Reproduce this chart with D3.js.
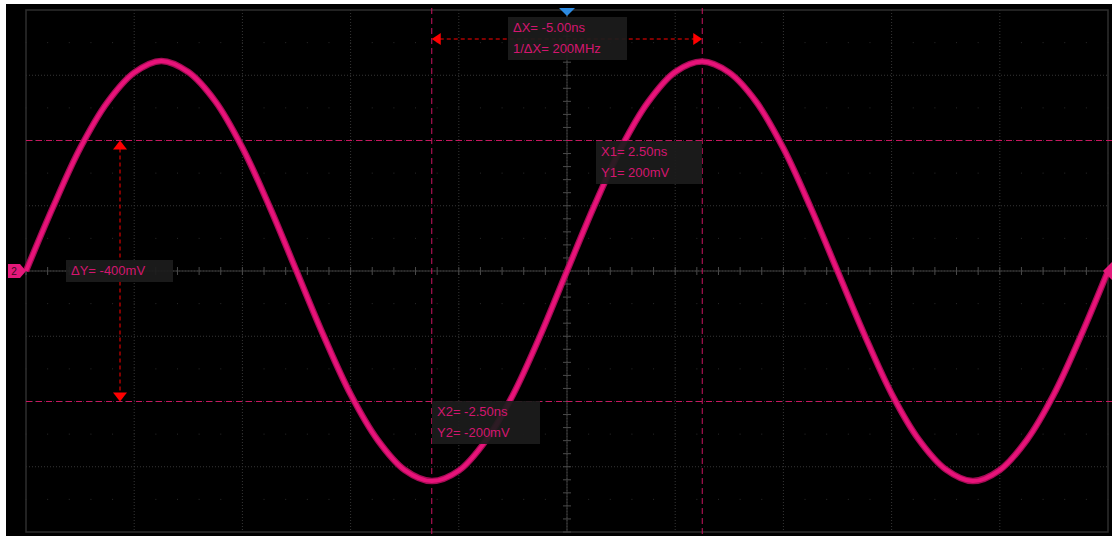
<!DOCTYPE html>
<html>
<head>
<meta charset="utf-8">
<script src="https://cdn.jsdelivr.net/npm/d3@7"></script>
<style>
  html, body { margin: 0; padding: 0; background: #ffffff; }
  svg { display: block; }
</style>
</head>
<body>
<div id="scope"></div>
<script>
// time axis in ns, voltage in mV
const time_range = [-10, 10];
const volt_range = [-400, 400];
const h_divs = 10;
const v_divs = 8;

// waveform samples, one every 0.5 ns
const wave_t0 = -10;
const wave_dt = 0.5;
const wave_mv = [
  0, 98, 188, 258, 304, 322, 305, 260, 189, 99,
  0, -99, -189, -259, -305, -322, -306, -260, -190, -100,
  0, 99, 189, 259, 305, 321, 304, 259, 188, 98,
  0, -98, -188, -258, -304, -322, -305, -259, -189, -99,
  0
];

// cursors
const cursor_x = [2.5, -2.5];     // X1, X2 (ns)
const cursor_y = [200, -200];     // Y1, Y2 (mV)
const delta_labels = ["\u0394X= -5.00ns", "1/\u0394X= 200MHz"];
const x1_labels = ["X1= 2.50ns", "Y1= 200mV"];
const x2_labels = ["X2= -2.50ns", "Y2= -200mV"];
const dy_label = "\u0394Y= -400mV";
const channel = "2";

const width = 1112;
const height = 536;
const wave_color = "#e8137a";
const cursor_color = "#c8155f";
const arrow_color = "#ff0000";
const text_color = "#d3166f";
const box_fill = "#1c1c1c";

const x = d3.scaleLinear().domain(time_range).range([26, 1108]);
const y = d3.scaleLinear().domain(volt_range).range([532, 10]);

const svg = d3.select("#scope").append("svg")
    .attr("width", width)
    .attr("height", height);

svg.append("rect")
    .attr("x", 6).attr("y", 4)
    .attr("width", width - 6).attr("height", height - 4)
    .attr("fill", "#000000");

// ---- grid
const grid = svg.append("g");
const x_ticks = d3.range(h_divs + 1).map(function(i) {
  return time_range[0] + i * (time_range[1] - time_range[0]) / h_divs;
});
const y_ticks = d3.range(v_divs + 1).map(function(i) {
  return volt_range[0] + i * (volt_range[1] - volt_range[0]) / v_divs;
});

grid.selectAll(".vgrid")
    .data(x_ticks.slice(1, -1))
  .enter().append("line")
    .attr("x1", function(d) { return x(d); })
    .attr("x2", function(d) { return x(d); })
    .attr("y1", y(volt_range[1]))
    .attr("y2", y(volt_range[0]))
    .attr("stroke", "#363636")
    .attr("stroke-width", 1)
    .attr("stroke-dasharray", "1,2");

grid.selectAll(".hgrid")
    .data(y_ticks.slice(1, -1))
  .enter().append("line")
    .attr("x1", x(time_range[0]))
    .attr("x2", x(time_range[1]))
    .attr("y1", function(d) { return y(d); })
    .attr("y2", function(d) { return y(d); })
    .attr("stroke", "#363636")
    .attr("stroke-width", 1)
    .attr("stroke-dasharray", "1,2");

// faint sub-division dots on half-division rows
const half_rows = d3.range(v_divs).map(function(i) { return volt_range[0] + (i + 0.5) * 100; });
const fifth_cols = d3.range(h_divs * 5 + 1).map(function(i) { return time_range[0] + i * 0.4; });
half_rows.forEach(function(v) {
  grid.selectAll(null)
      .data(fifth_cols)
    .enter().append("rect")
      .attr("x", function(d) { return x(d) - 0.5; })
      .attr("y", y(v) - 0.5)
      .attr("width", 1).attr("height", 1)
      .attr("fill", "#2a2a2a");
});

grid.append("rect")
    .attr("x", x(time_range[0]))
    .attr("y", y(volt_range[1]))
    .attr("width", x(time_range[1]) - x(time_range[0]))
    .attr("height", y(volt_range[0]) - y(volt_range[1]))
    .attr("fill", "none")
    .attr("stroke", "#2e2e2e")
    .attr("stroke-width", 1.5);

// centre axes with minor ticks
grid.append("line")
    .attr("x1", x(time_range[0])).attr("x2", x(time_range[1]))
    .attr("y1", y(0)).attr("y2", y(0))
    .attr("stroke", "#3c3c3c").attr("stroke-width", 1);
grid.append("line")
    .attr("x1", x(0)).attr("x2", x(0))
    .attr("y1", y(volt_range[1])).attr("y2", y(volt_range[0]))
    .attr("stroke", "#3c3c3c").attr("stroke-width", 1);

grid.selectAll(".xtick")
    .data(fifth_cols)
  .enter().append("line")
    .attr("x1", function(d) { return x(d); })
    .attr("x2", function(d) { return x(d); })
    .attr("y1", y(0) - 4).attr("y2", y(0) + 4)
    .attr("stroke", "#4a4a4a").attr("stroke-width", 1);

grid.selectAll(".ytick")
    .data(d3.range(v_divs * 5 + 1).map(function(i) { return volt_range[0] + i * 20; }))
  .enter().append("line")
    .attr("x1", x(0) - 4).attr("x2", x(0) + 4)
    .attr("y1", function(d) { return y(d); })
    .attr("y2", function(d) { return y(d); })
    .attr("stroke", "#4a4a4a").attr("stroke-width", 1);

// ---- cursor lines
svg.selectAll(".cursor-x")
    .data(cursor_x)
  .enter().append("line")
    .attr("x1", function(d) { return x(d); })
    .attr("x2", function(d) { return x(d); })
    .attr("y1", 8).attr("y2", height)
    .attr("stroke", cursor_color)
    .attr("stroke-width", 1)
    .attr("stroke-dasharray", "6,4");

svg.selectAll(".cursor-y")
    .data(cursor_y)
  .enter().append("line")
    .attr("x1", x(time_range[0])).attr("x2", width)
    .attr("y1", function(d) { return y(d); })
    .attr("y2", function(d) { return y(d); })
    .attr("stroke", cursor_color)
    .attr("stroke-width", 1)
    .attr("stroke-dasharray", "6,4");

// ---- waveform
const wave = wave_mv.map(function(v, i) { return { t: wave_t0 + i * wave_dt, v: v }; });
const line = d3.line()
    .x(function(d) { return x(d.t); })
    .y(function(d) { return y(d.v); })
    .curve(d3.curveCatmullRom);

svg.append("path")
    .datum(wave)
    .attr("d", line)
    .attr("fill", "none")
    .attr("stroke", "#a50c55")
    .attr("stroke-width", 6.5)
    .attr("stroke-linejoin", "round");
svg.append("path")
    .datum(wave)
    .attr("d", line)
    .attr("fill", "none")
    .attr("stroke", wave_color)
    .attr("stroke-width", 4)
    .attr("stroke-linejoin", "round");

// ---- delta arrows
const ax_y = 39;
svg.append("line")
    .attr("x1", x(cursor_x[1]) + 8).attr("x2", x(cursor_x[0]) - 8)
    .attr("y1", ax_y).attr("y2", ax_y)
    .attr("stroke", arrow_color).attr("stroke-width", 1)
    .attr("stroke-dasharray", "4,3");
svg.append("path")
    .attr("d", "M" + x(cursor_x[1]) + "," + ax_y + " l9,-6 l0,12 z")
    .attr("fill", arrow_color);
svg.append("path")
    .attr("d", "M" + x(cursor_x[0]) + "," + ax_y + " l-9,-6 l0,12 z")
    .attr("fill", arrow_color);

const ay_x = 120;
svg.append("line")
    .attr("x1", ay_x).attr("x2", ay_x)
    .attr("y1", y(cursor_y[0]) + 8).attr("y2", y(cursor_y[1]) - 8)
    .attr("stroke", arrow_color).attr("stroke-width", 1)
    .attr("stroke-dasharray", "4,3");
svg.append("path")
    .attr("d", "M" + ay_x + "," + y(cursor_y[0]) + " l-7,9 l14,0 z")
    .attr("fill", arrow_color);
svg.append("path")
    .attr("d", "M" + ay_x + "," + y(cursor_y[1]) + " l-7,-9 l14,0 z")
    .attr("fill", arrow_color);

// ---- label boxes
function labelBox(bx, by, bw, lines) {
  const g = svg.append("g").attr("transform", "translate(" + bx + "," + by + ")");
  g.append("rect")
      .attr("width", bw)
      .attr("height", lines.length * 21 + 1)
      .attr("fill", box_fill)
      .attr("fill-opacity", 0.92);
  g.selectAll("text")
      .data(lines)
    .enter().append("text")
      .attr("x", 5)
      .attr("y", function(d, i) { return 15 + i * 21; })
      .attr("font-family", "Liberation Sans, Arial, sans-serif")
      .attr("font-size", 13)
      .attr("fill", text_color)
      .text(function(d) { return d; });
}

labelBox(508, 17, 119, delta_labels);
labelBox(596, 141, 106, x1_labels);
labelBox(432, 401, 108, x2_labels);
labelBox(66, 260, 107, [dy_label]);

// ---- channel markers
svg.append("path")
    .attr("d", "M8," + (y(0) - 7) + " l12,0 l6,7 l-6,7 l-12,0 z")
    .attr("fill", "#e4187a");
svg.append("text")
    .attr("x", 14)
    .attr("y", y(0) + 4)
    .attr("text-anchor", "middle")
    .attr("font-family", "Liberation Sans, Arial, sans-serif")
    .attr("font-size", 10)
    .attr("fill", "#3a0a20")
    .text(channel);
svg.append("path")
    .attr("d", "M" + width + "," + (y(0) - 9) + " l-9,9 l9,9 z")
    .attr("fill", "#e4187a");

// trigger position marker
svg.append("path")
    .attr("d", "M" + (x(0) - 8) + ",8 l16,0 l-8,8 z")
    .attr("fill", "#2d8be2");
</script>
</body>
</html>
